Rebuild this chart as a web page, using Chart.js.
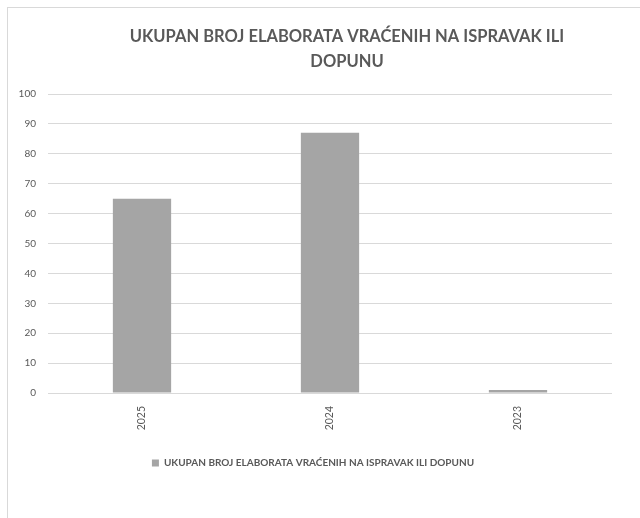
<!DOCTYPE html>
<html>
<head>
<meta charset="utf-8">
<script src="https://cdn.jsdelivr.net/npm/chart.js@4.4.1/dist/chart.umd.min.js"></script>
<style>
  html, body { margin: 0; padding: 0; background: #fff; }
  #wrap { position: relative; width: 640px; height: 518px; overflow: hidden; }
  #frame { position: absolute; left: 7px; top: 7px; width: 700px; height: 600px; border: 1px solid #d9d9d9; }
  #chart { position: absolute; left: 0; top: 0; }
</style>
</head>
<body>
<div id="wrap">
  <div id="frame"></div>
  <canvas id="chart" width="640" height="518"></canvas>
</div>
<script>
// Data
const seriesName = 'UKUPAN BROJ ELABORATA VRAĆENIH NA ISPRAVAK ILI DOPUNU';
const titleLines = ['UKUPAN BROJ ELABORATA VRAĆENIH NA ISPRAVAK ILI', 'DOPUNU'];
const years = ['2025', '2024', '2023'];
const returned = [65, 87, 1];
const yMin = 0, yMax = 100, yStep = 10;

const textGray = '#595959';
const gridGray = '#d9d9d9';
const barGray = '#a5a5a5';

// Two-line title, drawn a bit right of the canvas centre
const titlePlugin = {
  id: 'wrappedTitle',
  afterDraw(chart) {
    const ctx = chart.ctx;
    ctx.save();
    ctx.font = 'bold 16.5px Lato';
    ctx.fillStyle = textGray;
    ctx.textAlign = 'center';
    ctx.textBaseline = 'middle';
    titleLines.forEach((line, i) => ctx.fillText(line, 347, 37 + i * 25));
    ctx.restore();
  }
};

// nudge the legend a few px right
const legendShift = {
  id: 'legendShift',
  afterLayout(chart) {
    if (chart.legend) {
      chart.legend.left += 7;
      chart.legend.right += 7;
    }
  }
};

const ctx = document.getElementById('chart').getContext('2d');
const chart = new Chart(ctx, {
  type: 'bar',
  data: {
    labels: years,
    datasets: [{
      label: seriesName,
      data: returned,
      backgroundColor: barGray,
      borderWidth: 0,
      barPercentage: 0.31,
      categoryPercentage: 1
    }]
  },
  options: {
    responsive: false,
    animation: false,
    layout: { padding: { top: 94, right: 28, bottom: 40, left: 0 } },
    plugins: {
      title: { display: false },
      tooltip: { enabled: false },
      legend: {
        position: 'bottom',
        labels: {
          color: textGray,
          font: { family: 'Lato', size: 10, weight: 'bold' },
          boxWidth: 7,
          boxHeight: 7,
          padding: 10
        }
      }
    },
    scales: {
      x: {
        grid: { display: false },
        border: { display: false },
        ticks: {
          color: textGray,
          font: { family: 'Lato', size: 10.5 },
          minRotation: 90,
          maxRotation: 90,
          padding: 5
        },
        afterFit(scale) { scale.height = 55; }
      },
      y: {
        min: yMin,
        max: yMax,
        grid: { color: gridGray, drawTicks: false },
        border: { display: false },
        ticks: {
          stepSize: yStep,
          color: textGray,
          font: { family: 'Lato', size: 10 },
          padding: 12
        },
        afterFit(scale) { scale.width = 48; }
      }
    }
  },
  plugins: [titlePlugin, legendShift]
});
</script>
</body>
</html>
